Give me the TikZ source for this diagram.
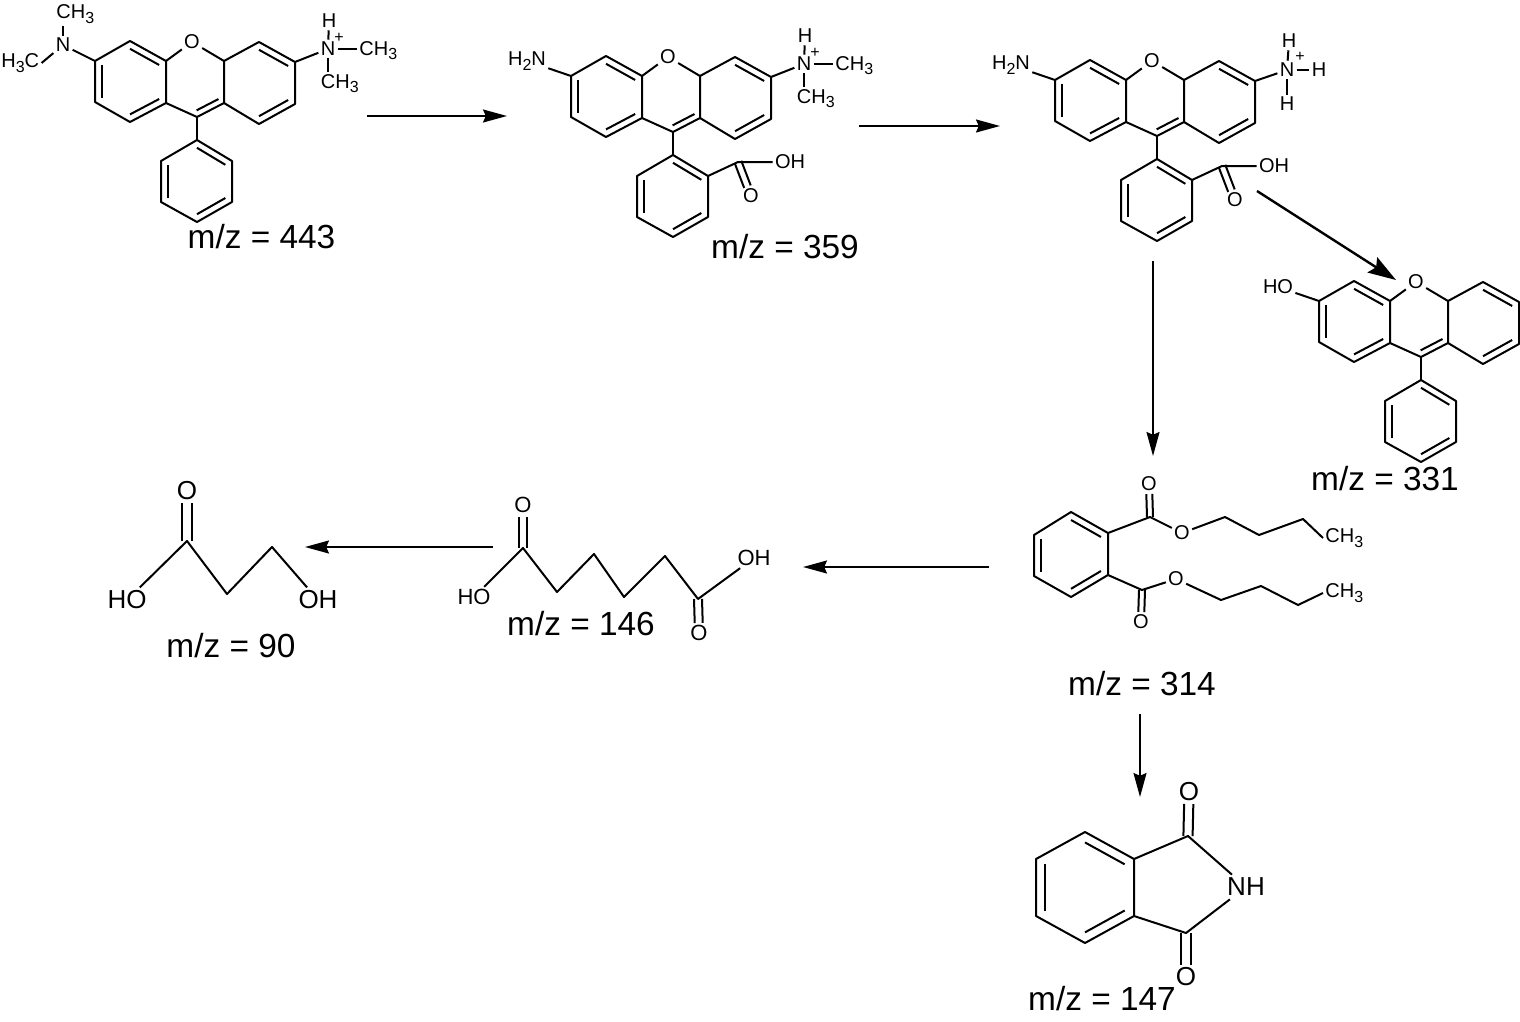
\documentclass[tikz,border=0pt]{standalone}
\usepackage{fontspec}
\setmainfont{Liberation Sans}
\usetikzlibrary{arrows.meta,calc}

\newcommand{\atoms}[1]{\foreach \nm/\px/\py in {#1}{\coordinate (\nm) at (\px,\py);}}
\newcommand{\inbond}[3]{\draw[bond] ($(#1)!.19!(#3)$) -- ($(#2)!.19!(#3)$);}
\newcommand{\dbl}[4]{%
  \draw[bond,shorten >=#4] ($(#1)!#3!90:(#2)$) -- ($(#2)!#3!-90:(#1)$);
  \draw[bond,shorten >=#4] ($(#1)!#3!-90:(#2)$) -- ($(#2)!#3!90:(#1)$);}
\newcommand{\sbs}[1]{\raisebox{-.45ex}{\fontsize{8}{9}\selectfont #1}}
\newcommand{\chthree}{CH\sbs{3}}

\newcommand{\xanthene}[3]{%
  \begin{scope}[shift={(#2,#3)},name prefix=#1-]
    \atoms{l1/95/61,l2/130/41,l3/166/61,l4/166/103,l5/130/122,l6/95/102,
           c1/224/61,c2/224/103,c3/197/117,cm/195/82,lm/130/82,
           r2/259/42,r3/295/62,r4/295/104,r5/259/124,rm/259/83,
           p1/197/140,p2/232/161,p3/232/202,p4/197/222,p5/161/202,p6/161/161,pm/197/181}
    \node[atom] (O) at (192,42) {O};
    \draw[bond] (l1) -- (l2) -- (l3) -- (l4) -- (l5) -- (l6) -- cycle;
    \draw[bond] (l3) -- (O) -- (c1) -- (c2) -- (c3) -- (l4);
    \draw[bond] (c1) -- (r2) -- (r3) -- (r4) -- (r5) -- (c2);
    \draw[bond] (c3) -- (p1);
    \draw[bond] (p1) -- (p2) -- (p3) -- (p4) -- (p5) -- (p6) -- cycle;
    \inbond{l2}{l3}{lm} \inbond{l1}{l6}{lm} \inbond{l4}{l5}{lm}
    \inbond{c3}{c2}{cm}
    \inbond{r2}{r3}{rm} \inbond{r4}{r5}{rm}
    \inbond{p1}{p2}{pm} \inbond{p3}{p4}{pm} \inbond{p5}{p6}{pm}
  \end{scope}}

\newcommand{\ammonium}[3]{%
  \begin{scope}[shift={(#2,#3)},name prefix=#1-]
    \node[atom] (Nq) at (328,49) {N};
    \node[atom] (Hq) at (329,21) {H};
    \node[charge] (plus) at (339,38) {+};
    \node[atom,anchor=west] (Me1) at (357,50.5) {\chthree};
    \node[atom,anchor=west] (Me2) at (318.5,83.5) {\chthree};
    \draw[bond] (r3) -- (Nq);
    \draw[bond] (Nq) -- (Hq);
    \draw[bond] (Nq) -- (Me1.west |- Nq);
    \draw[bond] (Nq) -- (Nq |- Me2.north);
  \end{scope}}

\newcommand{\cooh}[3]{%
  \begin{scope}[shift={(#2,#3)},name prefix=#1-]
    \coordinate (cc) at (262,147);
    \node[atom] (Ob) at (275,181) {O};
    \node[atom] (Oh) at (314,147) {OH};
    \draw[bond] (p2) -- (cc) -- (Oh);
    \dbl{cc}{Ob}{1.75pt}{5pt}
  \end{scope}}

\newcommand{\aniline}[3]{%
  \begin{scope}[shift={(#2,#3)},name prefix=#1-]
    \node[atom] (Nh) at (51,46) {H\sbs{2}N};
    \draw[bond] (l1) -- (Nh);
  \end{scope}}

\begin{document}
\begin{tikzpicture}[x=0.5pt,y=-0.5pt,
    bond/.style={line width=1pt,line join=round},
    atom/.style={font=\fontsize{10}{12}\selectfont,inner sep=1pt},
    charge/.style={font=\fontsize{8}{10}\selectfont,inner sep=0pt},
    bigatom/.style={font=\fontsize{13}{15}\selectfont,inner sep=1.5pt},
    midatom/.style={font=\fontsize{11}{14}\selectfont,inner sep=1pt},
    mzlabel/.style={font=\fontsize{16.7}{20}\selectfont,inner sep=0pt},
    rxn/.style={line width=0.85pt,-{Stealth[length=12pt,width=6.5pt,inset=1.4pt]}},
    boldrxn/.style={line width=1.2pt,-{Stealth[length=14pt,width=9pt,inset=2.2pt]}}]
  \useasboundingbox (0,0) rectangle (1520,1022);

  % first row
  \xanthene{ma}{0}{0}
  \xanthene{mb}{476}{15}
  \xanthene{mc}{960}{19}
  \xanthene{md}{1224}{240}
  \ammonium{ma}{0}{0}
  \ammonium{mb}{476}{15}
  \cooh{mb}{476}{15}
  \cooh{mc}{960}{19}
  \aniline{mb}{476}{15}
  \aniline{mc}{960}{19}

  \node[atom] (ma-Nt) at (63,45) {N};
  \node[atom,anchor=west] (ma-Mt) at (54,14) {\chthree};
  \node[atom,anchor=west] (ma-Ml) at (-1,63) {H\sbs{3}C};
  \draw[bond] (ma-l1) -- (ma-Nt);
  \draw[bond] (ma-Nt) -- (ma-Nt |- ma-Mt.south);
  \draw[bond] (ma-Nt) -- (ma-Ml.east);

  \node[atom] (mc-Nq) at (1287,70) {N};
  \node[atom] (mc-Ha) at (1289,41) {H};
  \node[atom] (mc-Hb) at (1319,70) {H};
  \node[atom] (mc-Hc) at (1287,104) {H};
  \node[charge] (mc-plus) at (1300,57) {+};
  \draw[bond] (mc-r3) -- (mc-Nq);
  \draw[bond] (mc-Nq) -- (mc-Ha);
  \draw[bond] (mc-Nq) -- (mc-Hb);
  \draw[bond] (mc-Nq) -- (mc-Hc);

  \node[atom] (md-Ho) at (1278,287) {HO};
  \draw[bond] (md-l1) -- (md-Ho);

  % dibutyl ester
  \atoms{d1/1034/535,d2/1071/512,d3/1108/533,d4/1108/575,d5/1071/597,d6/1034/576,dm/1071/554,
         ea/1150/517,ab/1225/517,ac/1259/535,ad/1303/519,
         eb/1142/590,bb/1221/600,bc/1261/586,bd/1298/605}
  \node[atom] (Oa) at (1149,484) {O};
  \node[atom] (Oe) at (1182,533) {O};
  \node[atom] (Ob) at (1141,622) {O};
  \node[atom] (Of) at (1176,579) {O};
  \node[atom,anchor=west] (Mea) at (1323,538) {\chthree};
  \node[atom,anchor=west] (Meb) at (1323,593) {\chthree};
  \draw[bond] (d1) -- (d2) -- (d3) -- (d4) -- (d5) -- (d6) -- cycle;
  \inbond{d2}{d3}{dm} \inbond{d4}{d5}{dm} \inbond{d6}{d1}{dm}
  \draw[bond] (d3) -- (ea) -- (Oe) -- (ab) -- (ac) -- (ad) -- (Mea.west);
  \draw[bond] (d4) -- (eb) -- (Of) -- (bb) -- (bc) -- (bd) -- (Meb.west);
  \dbl{ea}{Oa}{1.5pt}{5pt}
  \dbl{eb}{Ob}{1.5pt}{5pt}

  % phthalimide
  \atoms{f1/1036/859,f2/1085/832,f3/1134/859,f4/1134/916,f5/1085/943,f6/1036/916,fm/1085/887,
         fa/1188/836,fb/1186/933}
  \node[bigatom] (Ofa) at (1189,792) {O};
  \node[bigatom] (Ofb) at (1186,977) {O};
  \node[bigatom] (Nf) at (1246,887) {NH};
  \draw[bond] (f1) -- (f2) -- (f3) -- (f4) -- (f5) -- (f6) -- cycle;
  \inbond{f2}{f3}{fm} \inbond{f4}{f5}{fm} \inbond{f6}{f1}{fm}
  \draw[bond] (f3) -- (fa) -- (Nf) -- (fb) -- (f4);
  \dbl{fa}{Ofa}{2.3pt}{6pt}
  \dbl{fb}{Ofb}{2.3pt}{6pt}

  % hexanedioic acid
  \atoms{h1/523/548,h2/557/592,h3/594/554,h4/624/597,h5/665/556,h6/698/599}
  \node[midatom] (Oha) at (523,505) {O};
  \node[midatom] (Hoa) at (474,597) {HO};
  \node[midatom] (Ohb) at (699,633) {O};
  \node[midatom] (Hob) at (754,558) {OH};
  \draw[bond] (Hoa) -- (h1) -- (h2) -- (h3) -- (h4) -- (h5) -- (h6) -- (Hob);
  \dbl{h1}{Oha}{2pt}{6pt}
  \dbl{h6}{Ohb}{2pt}{5pt}

  % hydroxy acid
  \atoms{k1/187/541,k2/227/594,k3/272/547}
  \node[bigatom] (Oka) at (187,491) {O};
  \node[bigatom] (Hka) at (127,600) {HO};
  \node[bigatom] (Hkb) at (318,600) {OH};
  \draw[bond] (Hka) -- (k1) -- (k2) -- (k3) -- (Hkb);
  \dbl{k1}{Oka}{2.3pt}{6pt}

  % labels
  \node[mzlabel] (mz443) at (261.5,237) {m/z = 443};
  \node[mzlabel] (mz359) at (785,247) {m/z = 359};
  \node[mzlabel] (mz331) at (1385,479) {m/z = 331};
  \node[mzlabel] (mz314) at (1142,684) {m/z = 314};
  \node[mzlabel] (mz147) at (1102,999) {m/z = 147};
  \node[mzlabel] (mz146) at (581,624) {m/z = 146};
  \node[mzlabel] (mz90) at (231,646) {m/z = 90};

  % arrows
  \atoms{s1/367/116,e1/507/116,s2/859/126,e2/1000/126,s3/1153/261,e3/1153/456,
         s4/1257/191,e4/1396/280,s5/989/567,e5/803/567,s6/493/547,e6/305/547,
         s7/1140/714,e7/1140/797}
  \foreach \from/\to in {s1/e1,s2/e2,s3/e3,s5/e5,s6/e6,s7/e7}
    \draw[rxn] (\from) -- (\to);
  \draw[boldrxn] (s4) -- (e4);
\end{tikzpicture}
\end{document}
